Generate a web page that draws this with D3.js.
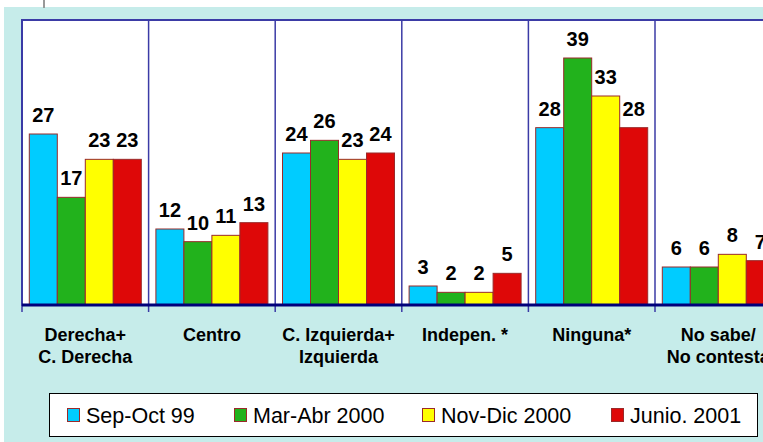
<!DOCTYPE html>
<html>
<head>
<meta charset="utf-8">
<script src="https://cdn.jsdelivr.net/npm/d3@7"></script>
<style>
  body { margin: 0; background: #fff; }
  svg { display: block; }
</style>
</head>
<body>
<div id="chart"></div>
<script>
// data
var categories = ["Derecha+\nC. Derecha", "Centro", "C. Izquierda+\nIzquierda", "Indepen. *", "Ninguna*", "No sabe/\nNo contesta"];
var series = ["Sep-Oct 99", "Mar-Abr 2000", "Nov-Dic 2000", "Junio. 2001"];
var sepOct99 = [27, 12, 24, 3, 28, 6];
var marAbr2000 = [17, 10, 26, 2, 39, 6];
var novDic2000 = [23, 11, 23, 2, 33, 8];
var junio2001 = [23, 13, 24, 5, 28, 7];
var seriesValues = [sepOct99, marAbr2000, novDic2000, junio2001];
var colors = ["#00ccff", "#22b21c", "#ffff00", "#de0808"];

var svgWidth = 763;
var svgHeight = 442;

var plot = { left: 22, top: 20, bottom: 305, step: 126.6 };

var svg = d3.select("#chart")
    .append("svg")
    .attr("width", svgWidth)
    .attr("height", svgHeight)
    .style("font-family", "Arial, 'Liberation Sans', sans-serif");

// cyan background
svg.append("rect")
    .attr("x", 4).attr("y", 7)
    .attr("width", svgWidth - 4).attr("height", svgHeight - 7)
    .attr("fill", "#c6ecea");

// little grey mark at the top
svg.append("rect")
    .attr("x", 43).attr("y", 0)
    .attr("width", 2).attr("height", 8)
    .attr("fill", "#999");

var x0 = d3.scaleBand()
    .domain(categories)
    .range([plot.left, plot.left + plot.step * categories.length])
    .padding(0);

var x1 = d3.scaleBand()
    .domain(series)
    .range([7.3, plot.step - 7.3])
    .padding(0);

var y = d3.scaleLinear()
    .domain([0, 45])
    .range([plot.bottom, plot.top]);

// white plot area
svg.append("rect")
    .attr("x", plot.left).attr("y", plot.top)
    .attr("width", svgWidth - plot.left + 10).attr("height", plot.bottom - plot.top)
    .attr("fill", "#fff")
    .attr("stroke", "#3b3ba6")
    .attr("stroke-width", 2);

// category separators
svg.append("g")
    .selectAll("line")
    .data(categories)
    .enter()
    .append("line")
    .attr("x1", d => x0(d)).attr("x2", d => x0(d))
    .attr("y1", plot.top).attr("y2", plot.bottom + 7)
    .attr("stroke", "#3b3ba6")
    .attr("stroke-width", 1.5);

// bars
var groups = svg.append("g")
    .selectAll("g")
    .data(categories)
    .enter()
    .append("g")
    .attr("transform", d => `translate(${x0(d)},0)`);

groups.selectAll("rect")
    .data((d, i) => series.map((s, j) => ({ s: s, j: j, v: seriesValues[j][i] })))
    .enter()
    .append("rect")
    .attr("x", d => x1(d.s))
    .attr("y", d => y(d.v))
    .attr("width", x1.bandwidth())
    .attr("height", d => y(0) - y(d.v))
    .attr("fill", d => colors[d.j])
    .attr("stroke", "#9a2a2a")
    .attr("stroke-width", 1);

groups.selectAll("text")
    .data((d, i) => series.map((s, j) => ({ s: s, j: j, v: seriesValues[j][i] })))
    .enter()
    .append("text")
    .attr("x", d => x1(d.s) + x1.bandwidth() / 2)
    .attr("y", d => y(d.v) - 12)
    .attr("text-anchor", "middle")
    .attr("font-size", "20px")
    .attr("font-weight", "bold")
    .attr("fill", "#000")
    .text(d => d.v);

// x axis baseline
svg.append("line")
    .attr("x1", plot.left).attr("x2", svgWidth)
    .attr("y1", plot.bottom).attr("y2", plot.bottom)
    .attr("stroke", "#00007a")
    .attr("stroke-width", 3);

// category labels
var labels = svg.append("g")
    .selectAll("text")
    .data(categories)
    .enter()
    .append("text")
    .attr("x", d => x0(d) + plot.step / 2)
    .attr("y", 341)
    .attr("text-anchor", "middle")
    .attr("font-size", "18px")
    .attr("font-weight", "bold")
    .attr("fill", "#000");

labels.selectAll("tspan")
    .data(d => d.split("\n"))
    .enter()
    .append("tspan")
    .attr("x", function () { return d3.select(this.parentNode).attr("x"); })
    .attr("dy", (d, i) => i === 0 ? 0 : 22)
    .text(d => d);

// legend
var legend = svg.append("g");
legend.append("rect")
    .attr("x", 49.5).attr("y", 393.5)
    .attr("width", 708).attr("height", 43)
    .attr("fill", "#fff")
    .attr("stroke", "#000")
    .attr("stroke-width", 1);

var legendX = [67, 234, 422, 611];
var items = legend.selectAll("g")
    .data(series)
    .enter()
    .append("g")
    .attr("transform", (d, i) => `translate(${legendX[i]},0)`);

items.append("rect")
    .attr("x", 0.5).attr("y", 408.5)
    .attr("width", 12).attr("height", 13)
    .attr("fill", (d, i) => colors[i])
    .attr("stroke", "#9a2a2a");

items.append("text")
    .attr("x", 19)
    .attr("y", 423)
    .attr("font-size", "21.5px")
    .attr("fill", "#000")
    .text(d => d);
</script>
</body>
</html>
